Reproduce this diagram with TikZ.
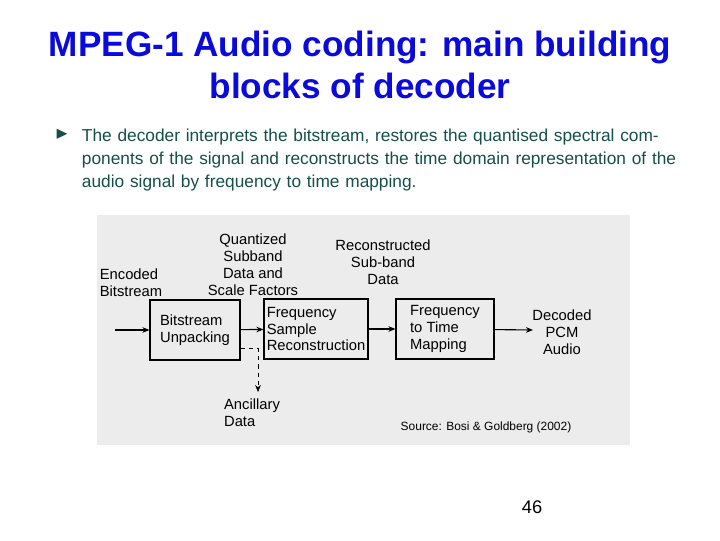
\documentclass[tikz,border=0pt]{standalone}
\usepackage{fontspec}
\setmainfont{Liberation Sans}
\usepackage{amssymb}
\usetikzlibrary{positioning, arrows.meta}
\definecolor{slideblue}{RGB}{10,10,220}
\definecolor{slidegreen}{RGB}{20,80,70}
\definecolor{scangray}{RGB}{236,236,236}

\begin{document}
\begin{tikzpicture}[
    x=0.025cm, y=-0.025cm,
    block/.style={rectangle, draw, thick, minimum height=1.5cm, align=left, font=\fontsize{10.5}{12}\selectfont, inner sep=2pt},
    label/.style={align=center, font=\fontsize{10.5}{12}\selectfont},
    arrow/.style={-{Stealth[length=5pt, width=4pt]}, thick}
  ]
  \useasboundingbox (0,0) rectangle (720,540);
  % Title
  \node[font=\fontsize{25}{30}\selectfont\bfseries, text=slideblue, align=center] (title) at (360,65)
    {MPEG-1 Audio coding: main building\\blocks of decoder};
  % Bullet
  \node[text=slidegreen, font=\fontsize{12}{16.5}\selectfont] (bullet) at (62,134) {$\blacktriangleright$};
  \node[text=slidegreen, font=\fontsize{12.3}{16.5}\selectfont, align=left, text width=15.1cm, anchor=north west] (text) at (77,124)
    {\hyphenpenalty=10000 The decoder interprets the bitstream, restores the quantised spectral components of the signal and reconstructs the time domain representation of the audio signal by frequency to time mapping.};
  % Scanned figure background
  \fill[scangray] (97,215) rectangle (630,445);
  % Blocks
  \node[block, minimum width=2.25cm] (unpack) at (195,330) {Bitstream\\Unpacking};
  \node[block, minimum width=2.4cm] (recon) at (316,329) {Frequency\\Sample\\Reconstruction};
  \node[block, minimum width=2.45cm] (mapping) at (445,329) {Frequency\\to Time\\Mapping};
  % Labels
  \node[label, align=left] (encoded) at (131,283) {Encoded\\Bitstream};
  \node[label] (quant) at (253,265) {Quantized\\Subband\\Data and\\Scale Factors};
  \node[label] (subband) at (383,262) {Reconstructed\\Sub-band\\Data};
  \node[label] (pcm) at (562,332) {Decoded\\PCM\\Audio};
  \node[label, align=left] (ancillary) at (252,413) {Ancillary\\Data};
  \node[font=\fontsize{8.5}{10}\selectfont] (source) at (486,427) {Source: Bosi \& Goldberg (2002)};
  \node[font=\fontsize{13}{15}\selectfont] (page) at (532,507) {46};
  \coordinate (in) at (115,330);
  \coordinate (out) at (533,330);
  \coordinate (anc) at (258,392);
  % Arrows
  \draw[arrow] (in) -- (unpack);
  \draw[arrow] (unpack) -- (recon);
  \draw[arrow] (recon) -- (mapping);
  \draw[arrow] (mapping) -- (out);
  \draw[arrow, dashed, thin] (unpack.east |- 0,348) -| (anc);
\end{tikzpicture}
\end{document}
